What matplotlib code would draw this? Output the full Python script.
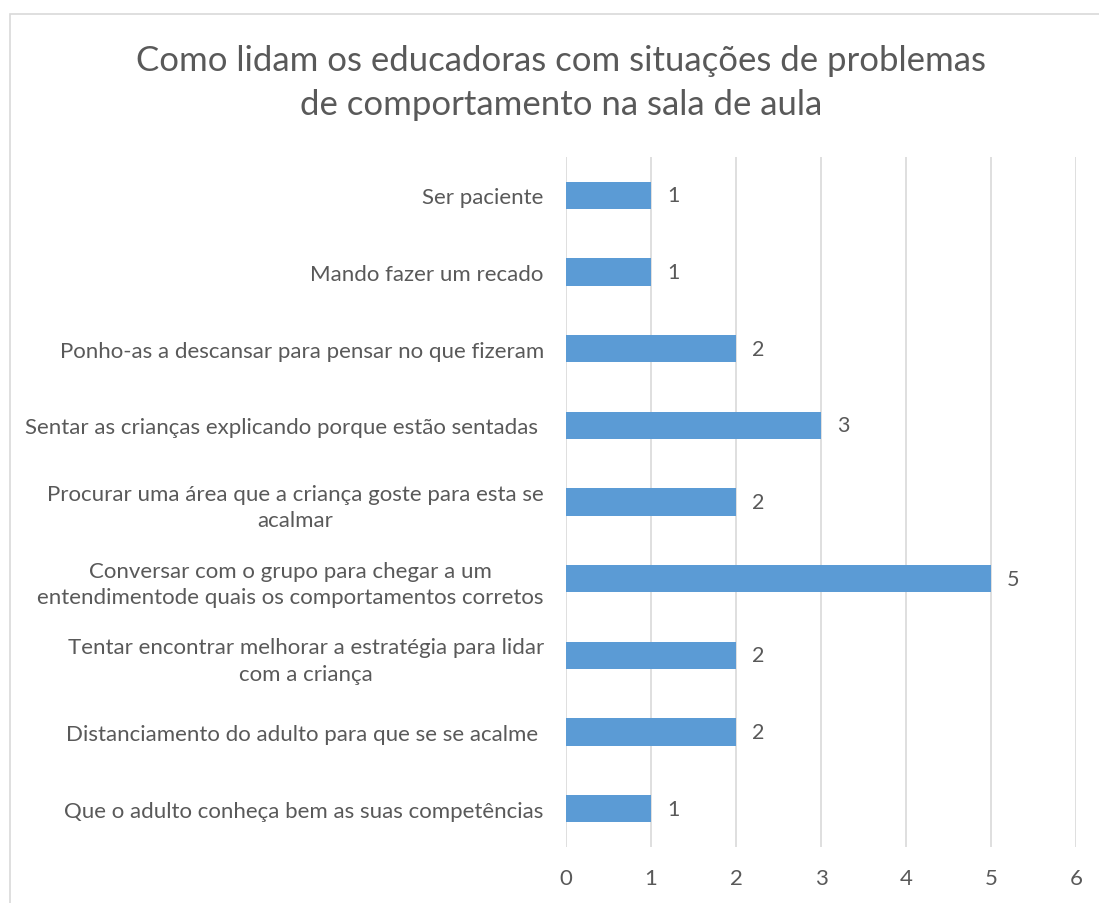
import matplotlib.pyplot as plt
from matplotlib.patches import Rectangle

# Chart data (top to bottom as shown)
categories = [
    "Ser paciente",
    "Mando fazer um recado",
    "Ponho-as a descansar para pensar no que fizeram",
    "Sentar as crianças explicando porque estão sentadas ",
    "Procurar uma área que a criança goste para esta se\nacalmar",
    "Conversar com o grupo para chegar a um\nentendimentode quais os comportamentos corretos",
    "Tentar encontrar melhorar a estratégia para lidar\ncom a criança",
    "Distanciamento do adulto para que se se acalme ",
    "Que o adulto conheça bem as suas competências",
]
values = [1, 1, 2, 3, 2, 5, 2, 2, 1]
xticks = [0, 1, 2, 3, 4, 5, 6]
title = "Como lidam os educadoras com situações de problemas\nde comportamento na sala de aula"

textColor = "#595959"
barColor = "#5B9BD5"
gridColor = "#D9D9D9"

plt.rcParams['font.family'] = ['Lato', 'DejaVu Sans']

fig = plt.figure(figsize=(10.99, 9.04), dpi=100)
ax = fig.add_axes([566 / 1099, 1 - 848 / 904, 510 / 1099, 690 / 904])

# Chart frame (cut off at right and bottom like the source)
fig.patches.append(Rectangle((10 / 1099, -0.1), 1.2, 1.1 - 15 / 904, transform=fig.transFigure,
                             fill=False, edgecolor=gridColor, linewidth=1.2))

positions = list(range(len(categories)))
ax.barh(positions, values, height=0.36, color=barColor, zorder=3)
for pos, val in zip(positions, values):
    ax.text(val + 0.19, pos, str(val), va='center', ha='left', fontsize=15.5, color=textColor)

ax.set_ylim(len(categories) - 0.5, -0.5)
ax.set_xlim(0, 6)
ax.set_xticks(xticks)
ax.set_yticks(positions)
ax.set_yticklabels(categories, multialignment='center', linespacing=1.4)

ax.grid(axis='x', color=gridColor, linewidth=1.2, zorder=0)
for side in ax.spines:
    ax.spines[side].set_visible(False)
ax.tick_params(axis='both', length=0, labelsize=16, labelcolor=textColor)
ax.tick_params(axis='y', pad=16)
ax.tick_params(axis='x', pad=15)

fig.text(561 / 1099, 1 - 83 / 904, title, ha='center', va='center', fontsize=25,
         color=textColor, linespacing=1.45)

fig.savefig("out.png", dpi=100)
